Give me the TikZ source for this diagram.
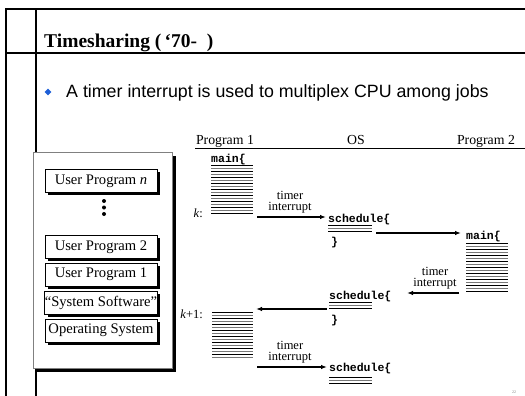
\documentclass[tikz,border=0pt]{standalone}
\usepackage{fontspec}
\setmainfont{Liberation Serif}
\setsansfont{Liberation Sans}
\setmonofont{Liberation Mono}
\usetikzlibrary{arrows.meta,shapes.geometric}
\definecolor{bulletblue}{RGB}{30,95,215}
\definecolor{hatchgray}{RGB}{120,120,120}
\tikzset{
  thickframe/.style={line width=2pt},
  thinframe/.style={line width=1.3pt},
  outerbox/.style={draw=gray, line width=0.6pt, fill=white, minimum width=139pt, minimum height=216pt, inner sep=0pt},
  stackbox/.style={draw=black, line width=0.8pt, fill=white, minimum width=112pt, minimum height=23pt, inner sep=0pt,
    font=\fontsize{14.6}{16}\selectfont},
  shadowfill/.style={fill=black},
  code/.style={font=\fontsize{11.5}{12}\selectfont\ttfamily\bfseries, inner sep=0pt, anchor=base west},
  hdr/.style={font=\fontsize{13.8}{15}\selectfont, inner sep=0pt, anchor=base},
  tlabel/.style={font=\fontsize{12.5}{11}\selectfont, align=center, inner sep=0pt},
  steplabel/.style={font=\fontsize{12.5}{14}\selectfont, inner sep=0pt, anchor=base east},
  arr/.style={-{Latex[length=6pt,width=4.5pt]}, line width=1.2pt},
  hblack/.style={line width=0.9pt, black},
  hgray/.style={line width=0.9pt, hatchgray},
  dotstyle/.style={circle, fill=black, inner sep=0pt, minimum size=4pt},
}
\newcommand\hatchblock[4]{%
  \foreach \i in {1,...,#4}{%
    \pgfmathsetmacro\yy{#3+3*(\i-1)}%
    \ifodd\i\relax
      \draw[hblack] (#1,\yy) -- (#2,\yy);
    \else
      \draw[hgray] (#1,\yy) -- (#2,\yy);
    \fi
  }%
}
% #1 name, #2 cx, #3 cy, #4 text
\newcommand\stackitem[4]{%
  \fill[shadowfill] ({#2-56+2.5},{#3-11.5+2.5}) rectangle ({#2+56+2.5},{#3+11.5+2.5});
  \node[stackbox] (#1) at (#2,#3) {#4};
}
\begin{document}
\begin{tikzpicture}[x=1pt,y=-1pt]
\useasboundingbox (0,0) rectangle (525,396);
% frame
\draw[thickframe] (6,396) -- (6,9) -- (525,9);
\draw[thinframe] (36,9) -- (36,396);
\draw[thinframe] (6,53) -- (525,53);
% title
\node[anchor=base west, inner sep=0pt, font=\fontsize{19.5}{22}\selectfont\bfseries] (title) at (44,48) {Timesharing (\,‘70-\ \ )};
% bullet
\node[diamond, fill=bulletblue, minimum size=7pt, inner sep=0pt] (bul) at (48,92) {};
\node[anchor=base west, inner sep=0pt, font=\fontsize{17.8}{20}\selectfont\sffamily] (btext) at (66,97) {A timer interrupt is used to multiplex CPU among jobs};
% stack
\fill[shadowfill] (37,156) rectangle (176,372);
\node[outerbox] (stack) at (102.5,260) {};
\stackitem{upn}{101}{181}{User Program \textit{n}}
\node[dotstyle] (d1) at (104,201) {};
\node[dotstyle] (d2) at (104,207.5) {};
\node[dotstyle] (d3) at (104,214) {};
\stackitem{up2}{101}{247}{User Program 2}
\stackitem{up1}{101}{274.5}{User Program 1}
\stackitem{sys}{101}{303}{“System Software”}
\stackitem{os}{101}{330.5}{Operating System}
% header
\node[hdr] (h1) at (225,144) {Program 1};
\node[hdr] (h2) at (356,144) {OS};
\node[hdr] (h3) at (486,144) {Program 2};
\coordinate (hl1) at (195,148);
\coordinate (hl2) at (525,148);
\draw[line width=0.9pt] (hl1) -- (hl2);
% program 1 first block
\node[code] (main1) at (211,162) {main\{};
\hatchblock{211}{253}{165}{17}
\node[steplabel] (k) at (203,217) {\textit{k}:};
% OS schedule 1
\node[code] (sch1) at (328,222) {schedule\{};
\hatchblock{328}{372}{225.5}{3}
\node[code] (cl1) at (331,245) {\}};
% program 2
\node[code] (main2) at (466,239) {main\{};
\hatchblock{466}{508}{243}{17}
% OS schedule 2
\node[code] (sch2) at (329,299) {schedule\{};
\hatchblock{329}{372}{302}{3}
\node[code] (cl2) at (331,323) {\}};
% program 1 second block
\node[steplabel] (k1) at (203,318) {\textit{k}+1:};
\hatchblock{212}{253}{312}{16}
% OS schedule 3
\node[code] (sch3) at (329,371) {schedule\{};
\hatchblock{329}{372}{377}{3}
% labels
\node[tlabel] (t1) at (290,202) {timer\\interrupt};
\node[tlabel] (t2) at (435,278) {timer\\interrupt};
\node[tlabel] (t3) at (290,352) {timer\\interrupt};
% arrows
\coordinate (a1s) at (257,217); \coordinate (a1e) at (326,217);
\coordinate (a2s) at (376,233); \coordinate (a2e) at (461,233);
\coordinate (a3s) at (459,293); \coordinate (a3e) at (407,293);
\coordinate (a4s) at (327,309); \coordinate (a4e) at (256,309);
\coordinate (a5s) at (257,367); \coordinate (a5e) at (327,367);
\draw[arr] (a1s) -- (a1e);
\draw[arr] (a2s) -- (a2e);
\draw[arr] (a3s) -- (a3e);
\draw[arr] (a4s) -- (a4e);
\draw[arr] (a5s) -- (a5e);
% page number
\node[inner sep=0pt, font=\fontsize{4}{5}\selectfont, text=gray] (pg) at (514,392) {22};
\end{tikzpicture}
\end{document}
